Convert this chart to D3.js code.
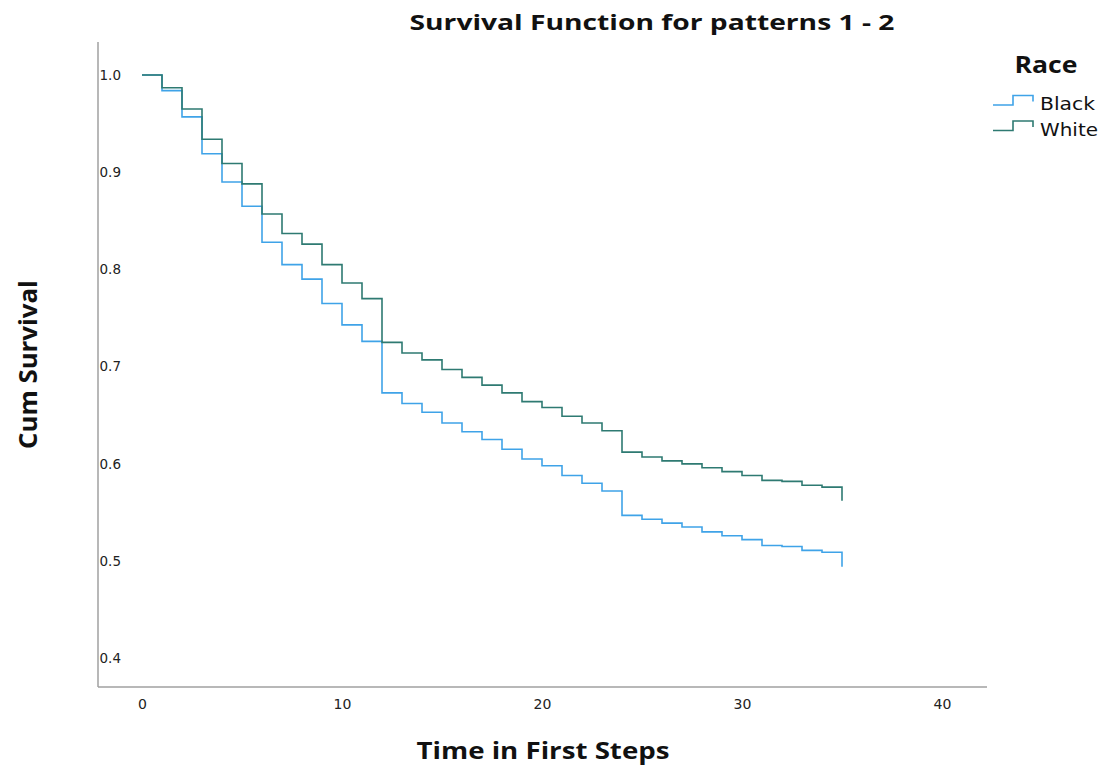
<!DOCTYPE html>
<html>
<head>
<meta charset="utf-8">
<script src="https://cdn.jsdelivr.net/npm/d3@7"></script>
<style>
  html, body { margin: 0; padding: 0; background: #fff; }
  svg { display: block; }
</style>
</head>
<body>
<svg id="chart" width="1104" height="770"></svg>
<script>
// ---- Data ----
const times = [0,1,2,3,4,5,6,7,8,9,10,11,12,13,14,15,16,17,18,19,20,21,22,23,24,25,26,27,28,29,30,31,32,33,34,35];
const blackSurvival = [1.000,0.984,0.957,0.919,0.890,0.865,0.828,0.805,0.790,0.765,0.743,0.726,0.673,0.662,0.653,0.642,0.633,0.625,0.615,0.605,0.598,0.588,0.580,0.572,0.547,0.543,0.539,0.535,0.530,0.526,0.522,0.516,0.515,0.511,0.509,0.494];
const whiteSurvival = [1.000,0.987,0.965,0.934,0.909,0.888,0.857,0.837,0.826,0.805,0.786,0.770,0.725,0.714,0.707,0.697,0.689,0.681,0.673,0.664,0.658,0.649,0.642,0.634,0.612,0.607,0.603,0.600,0.596,0.592,0.588,0.583,0.582,0.578,0.576,0.562];
const seriesNames = ["Black", "White"];
const xTicks = [0, 10, 20, 30, 40];
const yTicks = [0.4, 0.5, 0.6, 0.7, 0.8, 0.9, 1.0];
const titleText = "Survival Function for patterns 1 - 2";
const xTitle = "Time in First Steps";
const yTitle = "Cum Survival";
const legendTitle = "Race";

// ---- Layout ----
const svg = d3.select("#chart");
const colors = ["#3fa3e8", "#2e7a72"];
const x = d3.scaleLinear().domain([-2.2, 42.25]).range([98, 987]);
const y = d3.scaleLinear().domain([0.3704, 1.034]).range([687, 42]);

// axes lines
svg.append("line").attr("x1", 98).attr("x2", 98).attr("y1", 42).attr("y2", 687)
  .attr("stroke", "#a0a0a0").attr("stroke-width", 1.5);
svg.append("line").attr("x1", 98).attr("x2", 987).attr("y1", 687).attr("y2", 687)
  .attr("stroke", "#a0a0a0").attr("stroke-width", 1.5);

// tick labels
const xAxis = d3.axisBottom(x).tickValues(xTicks).tickSize(0).tickPadding(0).tickFormat(d3.format("d"));
const gx = svg.append("g").attr("transform", "translate(0,699)").call(xAxis);
gx.select(".domain").remove();
gx.selectAll("text").attr("font-family", "'DejaVu Sans', sans-serif").attr("font-size", 14)
  .attr("fill", "#222").attr("dy", "0.71em");

const yAxis = d3.axisLeft(y).tickValues(yTicks).tickSize(0).tickPadding(0).tickFormat(d3.format(".1f"));
const gy = svg.append("g").attr("transform", "translate(121,0)").call(yAxis);
gy.select(".domain").remove();
gy.selectAll("text").attr("font-family", "'DejaVu Sans', sans-serif").attr("font-size", 13.5)
  .attr("fill", "#222");

// lines
const seriesData = [blackSurvival, whiteSurvival];
const line = d3.line().curve(d3.curveStepAfter)
  .x(d => x(d[0])).y(d => y(d[1]));
seriesData.forEach((vals, i) => {
  const pts = times.map((t, j) => [t, vals[j]]);
  svg.append("path").datum(pts).attr("d", line)
    .attr("fill", "none").attr("stroke", colors[i]).attr("stroke-width", 1.6)
    .attr("stroke-linejoin", "miter");
});

// titles
svg.append("text").attr("x", 652).attr("y", 30).attr("text-anchor", "middle")
  .attr("font-family", "'Open Sans', sans-serif").attr("font-weight", "bold").attr("font-size", 21)
  .attr("fill", "#111").attr("textLength", 485).attr("lengthAdjust", "spacingAndGlyphs")
  .text(titleText);
svg.append("text").attr("x", 543).attr("y", 759).attr("text-anchor", "middle")
  .attr("font-family", "'Open Sans', sans-serif").attr("font-weight", "bold").attr("font-size", 24)
  .attr("fill", "#111").attr("textLength", 253).attr("lengthAdjust", "spacingAndGlyphs")
  .text(xTitle);
svg.append("text").attr("transform", "translate(37,364.5) rotate(-90)").attr("text-anchor", "middle")
  .attr("font-family", "'Open Sans', sans-serif").attr("font-weight", "bold").attr("font-size", 25)
  .attr("fill", "#111").attr("textLength", 169).attr("lengthAdjust", "spacingAndGlyphs")
  .text(yTitle);

// legend
svg.append("text").attr("x", 1046).attr("y", 73).attr("text-anchor", "middle")
  .attr("font-family", "'Open Sans', sans-serif").attr("font-weight", "bold").attr("font-size", 23)
  .attr("fill", "#111").attr("textLength", 63).attr("lengthAdjust", "spacingAndGlyphs")
  .text(legendTitle);
const legendWidths = [55, 58];
seriesNames.forEach((name, i) => {
  const by = 105 + i * 25.5;
  const sym = [[993, by], [1013, by], [1013, by - 9.5], [1033, by - 9.5], [1033, by - 3.5]];
  svg.append("path").attr("d", d3.line()(sym)).attr("fill", "none")
    .attr("stroke", colors[i]).attr("stroke-width", 1.6);
  svg.append("text").attr("x", 1040).attr("y", by + 5)
    .attr("font-family", "'DejaVu Sans', sans-serif").attr("font-size", 18)
    .attr("fill", "#111").attr("textLength", legendWidths[i]).attr("lengthAdjust", "spacingAndGlyphs")
    .text(name);
});
</script>
</body>
</html>
